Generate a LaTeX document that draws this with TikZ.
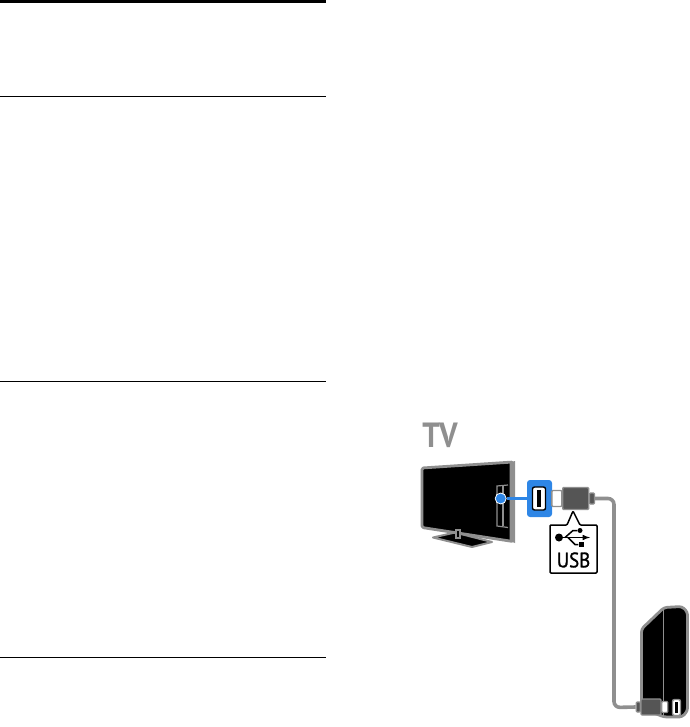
\documentclass[tikz,border=0pt]{standalone}
\usepackage{fontspec}
\setmainfont{PT Sans}
\newfontfamily\usbfont[FakeBold=1.2]{PT Sans}
\usepackage{xcolor}
\usetikzlibrary{positioning,calc}
\definecolor{tvgray}{HTML}{8F8F8F}
\definecolor{usbblue}{HTML}{2E86E6}
\definecolor{plugdark}{HTML}{555555}
\tikzset{
  rulerline/.style={draw=black,line width=1.1pt},
  frameline/.style={draw=tvgray,fill=black,line width=2.8pt,line join=round},
  plugpart/.style={draw=tvgray,line width=1.3pt,rounded corners=1pt,inner sep=0pt,minimum width=#1},
  usbcable/.style={draw=tvgray,line width=3.6pt,rounded corners=6pt},
  portbox/.style={draw=black,fill=white,line width=1.4pt,rounded corners=2pt,inner sep=0pt}
}

\begin{document}
\begin{tikzpicture}[x=1pt,y=-1pt]
\useasboundingbox (0,0) rectangle (689,727);
% the rulers
\path
  (0,1.5) coordinate (top1) (326,1.5) coordinate (top2)
  (0,96.5) coordinate (rule1a) (326,96.5) coordinate (rule1b)
  (0,381.5) coordinate (rule2a) (326,381.5) coordinate (rule2b)
  (0,657.7) coordinate (rule3a) (326,657.7) coordinate (rule3b);
\draw[rulerline,line width=3pt] (top1) -- (top2);
\draw[rulerline] (rule1a) -- (rule1b);
\draw[rulerline] (rule2a) -- (rule2b);
\draw[rulerline] (rule3a) -- (rule3b);

% the tv
\node[text=tvgray,font=\fontsize{35}{35}\selectfont\bfseries,anchor=center,inner sep=0pt,xscale=.88] (tvlabel) at (440,435.5) {TV};
\draw[frameline,line width=2pt] (433,537.5) -- (455,532.5) -- (492,542) -- (472,547) -- cycle;
\draw[frameline,rounded corners=1.5pt] (422,468) -- (513,462) -- (513,541.5) -- (422,527.5) -- cycle;
\fill[tvgray] (509.5,462.5) -- (515,461) -- (515,543) -- (509.5,541) -- cycle;
\draw[tvgray,line width=1.2pt,fill=black] (456,530) rectangle (460,538);
\draw[tvgray,line width=1.2pt] (508,485) -- (497,486) -- (497,526) -- (508,527.5);
\draw[tvgray,line width=1.2pt] (503,486) -- (503,526);

% the blue port
\node[fill=usbblue,rounded corners=3pt,minimum width=25pt,minimum height=37pt,inner sep=0pt] (portblue) at (539.5,498.5) {};
\node[portbox,minimum width=13pt,minimum height=23pt] (portusb) at (539,498.5) {};
\node[fill=black,minimum width=3.2pt,minimum height=17pt,inner sep=0pt] (portbar) at (539,498.5) {};
\node[circle,fill=usbblue,draw=white,line width=.8pt,minimum size=11pt,inner sep=0pt] (tvdot) at (500.7,498.5) {};
\draw[usbblue,line width=2.6pt] (tvdot) -- (portblue);

% the plug at the tv
\node[plugpart=10pt,fill=white,minimum height=16pt,right=-1pt of portblue] (plugneck) {};
\node[plugpart=26pt,fill=plugdark,minimum height=22pt,right=-.5pt of plugneck] (plugbody) {};
\node[plugpart=5pt,fill=plugdark,minimum height=11pt,right=-.5pt of plugbody] (plugtail) {};

% the drive
\draw[frameline,rounded corners=3pt] (641.5,629) -- (664,607.5) -- (682,606.5) -- (687.5,612) -- (687.5,711) -- (682,717) -- (664,717) -- (641.5,708) -- cycle;
\draw[tvgray,line width=.8pt] (663.5,608) -- (663.5,716);
\node[portbox,draw=tvgray,minimum width=8pt,minimum height=16pt] (driveport) at (676.5,707.5) {};
\node[fill=black,minimum width=2.6pt,minimum height=11pt,inner sep=0pt] (drivebar) at (676.5,707.5) {};

% the plug at the drive
\node[plugpart=20pt,fill=plugdark,minimum height=16pt] (drivebody) at (651,707) {};
\node[plugpart=6pt,fill=white,minimum height=11pt,right=-.5pt of drivebody] (driveneck) {};
\node[plugpart=4pt,fill=plugdark,minimum height=10pt,left=-.5pt of drivebody] (drivetail) {};

%the cable
\draw[usbcable] (plugtail.east) -| (614,707.5) -- (drivetail.west);

% the badge
\draw[black,fill=white,line width=1.5pt,line join=round,rounded corners=1pt]
  (550,525) -- (567,525) -- (573,511) -- (580,525) -- (597,525) -- (597,573) -- (550,573) -- cycle;
\node[font=\fontsize{21}{21}\selectfont\usbfont,inner sep=0pt,xscale=.9] (usblabel) at (573.5,560) {USB};

% the usb sign
\node[circle,fill=black,minimum size=8pt,inner sep=0pt] (signdot) at (559,537.5) {};
\coordinate (signtip) at (590,537.5);
\node[circle,fill=black,minimum size=5pt,inner sep=0pt] (signup) at (580,530.5) {};
\node[fill=black,minimum size=5pt,inner sep=0pt] (signdown) at (581,544.5) {};
\draw[line width=1.5pt,-latex] (signdot) -- (signtip);
\draw[line width=1.5pt] (565,537.5) -- (573,530.5) -- (signup);
\draw[line width=1.5pt] (568,537.5) -- (575,544.5) -- (signdown);
\end{tikzpicture}
\end{document}
